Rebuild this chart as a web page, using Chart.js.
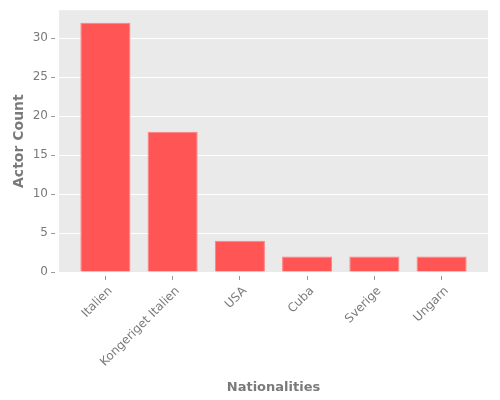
<!DOCTYPE html>
<html>
<head>
<meta charset="utf-8">
<script src="https://cdn.jsdelivr.net/npm/chart.js@4"></script>
<style>
html,body{margin:0;padding:0;background:#fff;}
#wrap{width:500px;height:400px;position:relative;}
</style>
</head>
<body>
<div id="wrap"><canvas id="c"></canvas></div>
<script>
const categories = ["Italien", "Kongeriget Italien", "USA", "Cuba", "Sverige", "Ungarn"];
const actorCounts = [32, 18, 4, 2, 2, 2];
const yTickValues = [0, 5, 10, 15, 20, 25, 30];

const points = categories.map((c, i) => ({x: i, y: actorCounts[i]}));

const bgPlugin = {
  id: 'bg',
  beforeDraw(chart) {
    const {ctx, chartArea: a} = chart;
    ctx.save();
    ctx.fillStyle = '#EAEAEA';
    ctx.fillRect(a.left, a.top, a.right - a.left, a.bottom - a.top);
    ctx.restore();
  }
};

const labelColor = '#7A7A7A';
const tickFont = {family: 'DejaVu Sans', size: 12};
const xTitleFont = {family: 'DejaVu Sans', size: 13, weight: 'bold'};
const yTitleFont = {family: 'DejaVu Sans', size: 14, weight: 'bold'};

new Chart(document.getElementById('c'), {
  type: 'bar',
  data: {
    datasets: [{
      data: points,
      backgroundColor: '#FF5555',
      borderColor: '#FF8080',
      borderWidth: 1,
      barPercentage: 0.745,
      categoryPercentage: 1.0
    }]
  },
  plugins: [bgPlugin],
  options: {
    responsive: true,
    maintainAspectRatio: false,
    animation: false,
    layout: {padding: {top: 10, right: 12, left: 0, bottom: 0}},
    plugins: {legend: {display: false}, tooltip: {enabled: false}},
    scales: {
      x: {
        type: 'linear',
        min: -0.69,
        max: 5.69,
        offset: false,
        afterBuildTicks(scale) {
          scale.ticks = categories.map((c, i) => ({value: i}));
        },
        afterFit(scale) { scale.height = 128; },
        grid: {
          offset: false,
          drawOnChartArea: false,
          drawTicks: true,
          color: '#FFFFFF',
          lineWidth: 1,
          tickLength: 8,
          tickColor: '#999999',
          tickBorderDash: [0, 4, 4, 100]
        },
        border: {display: false},
        ticks: {
          autoSkip: false,
          maxRotation: 45,
          minRotation: 45,
          padding: 4,
          labelOffset: 5,
          color: labelColor,
          font: tickFont,
          callback: (v) => categories[v]
        },
        title: {
          display: true,
          text: 'Nationalities',
          color: labelColor,
          font: xTitleFont,
          padding: {top: 0, bottom: 5}
        }
      },
      y: {
        min: 0,
        max: 33.6,
        afterBuildTicks(scale) {
          scale.ticks = yTickValues.map(v => ({value: v}));
        },
        afterFit(scale) { scale.width = 59; },
        grid: {
          color: '#FFFFFF',
          lineWidth: 1,
          tickLength: 8,
          tickColor: '#999999',
          tickBorderDash: [4, 100]
        },
        border: {display: false},
        ticks: {
          padding: 3,
          color: labelColor,
          font: tickFont
        },
        title: {
          display: true,
          text: 'Actor Count',
          color: labelColor,
          font: yTitleFont,
          padding: {top: 11, bottom: 0}
        }
      }
    }
  }
});
</script>
</body>
</html>
